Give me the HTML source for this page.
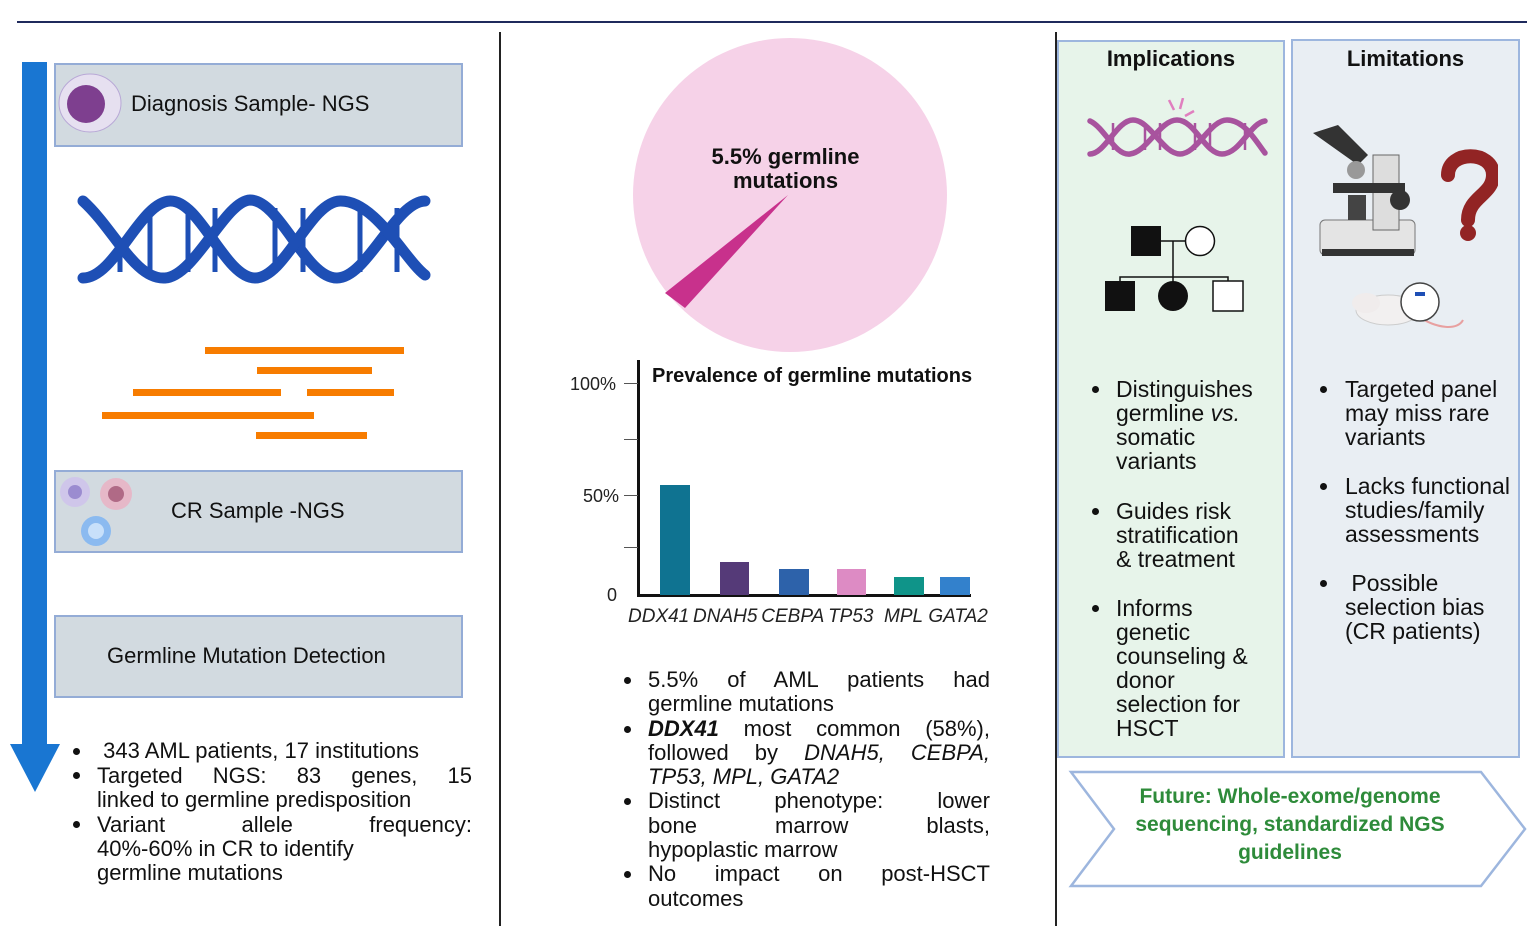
<!DOCTYPE html>
<html><head><meta charset="utf-8"><style>
body{margin:0;width:1532px;height:942px;background:#fff;position:relative;overflow:hidden;font-family:"Liberation Sans",Arial,sans-serif;color:#111}
.a{position:absolute}
.box{position:absolute;background:#d2dae0;border:2px solid #94acd6;box-sizing:border-box}
.l{position:absolute;font-size:22px;line-height:24px;white-space:nowrap}
.j{text-align:justify;text-align-last:justify}
.b{position:absolute;width:7px;height:7px;border-radius:50%;background:#111}
.r{font-size:23px}
</style></head><body>
<div class="a" style="left:17px;top:21px;width:1510px;height:2px;background:#1f2a5c"></div>
<div class="a" style="left:499px;top:32px;width:2px;height:894px;background:#222"></div>
<div class="a" style="left:1055px;top:32px;width:2px;height:894px;background:#222"></div>

<div class="a" style="left:22px;top:62px;width:25px;height:686px;background:#1976d2"></div>
<svg class="a" style="left:8px;top:744px" width="54" height="50"><polygon points="2,0 52,0 27,48" fill="#1976d2"/></svg>

<div class="box" style="left:54px;top:63px;width:409px;height:84px"></div>
<svg class="a" style="left:56px;top:70px" width="70" height="66"><ellipse cx="34" cy="33" rx="31" ry="29" fill="#e6e0f0" stroke="#b8a8d6"/><circle cx="30" cy="34" r="19" fill="#7e3f8f"/></svg>
<div class="a" style="left:131px;top:91px;font-size:22px">Diagnosis Sample- NGS</div>

<svg class="a" style="left:75px;top:190px" width="360" height="100" viewBox="0 0 360 100">
<g stroke="#1e4fb5" stroke-width="5"><line x1="45" y1="50" x2="45" y2="82"/><line x1="75" y1="20" x2="75" y2="82"/><line x1="113" y1="18" x2="113" y2="82"/><line x1="140" y1="18" x2="140" y2="82"/><line x1="200" y1="18" x2="200" y2="82"/><line x1="228" y1="18" x2="228" y2="82"/><line x1="285" y1="18" x2="285" y2="82"/><line x1="322" y1="18" x2="322" y2="82"/></g>
<g fill="none" stroke="#1e4fb5" stroke-width="11" stroke-linecap="round">
<path d="M8,11 C40,40 60,90 90,88 C120,86 150,11 175,10 C205,10 230,88 262,88 C292,88 320,12 350,11"/>
<path d="M8,88 C40,88 65,12 95,11 C125,10 150,88 180,88 C210,88 235,12 265,11 C300,10 330,70 350,85"/>
</g>
</svg>
<div class="a" style="left:205px;top:347px;width:199px;height:7px;background:#f77c00"></div>
<div class="a" style="left:257px;top:367px;width:115px;height:7px;background:#f77c00"></div>
<div class="a" style="left:133px;top:389px;width:148px;height:7px;background:#f77c00"></div>
<div class="a" style="left:307px;top:389px;width:87px;height:7px;background:#f77c00"></div>
<div class="a" style="left:102px;top:412px;width:212px;height:7px;background:#f77c00"></div>
<div class="a" style="left:256px;top:432px;width:111px;height:7px;background:#f77c00"></div>

<div class="box" style="left:54px;top:470px;width:409px;height:83px"></div>
<svg class="a" style="left:56px;top:473px" width="80" height="80"><circle cx="19" cy="19" r="15" fill="#cfc6ea"/><circle cx="19" cy="19" r="7" fill="#9b8cd0"/><circle cx="60" cy="21" r="16" fill="#e6b8c8"/><circle cx="60" cy="21" r="8" fill="#b06a86"/><circle cx="40" cy="58" r="15" fill="#8bbaf0"/><circle cx="40" cy="58" r="8" fill="#c8e0fa"/></svg>
<div class="a" style="left:171px;top:498px;font-size:22px">CR Sample -NGS</div>

<div class="box" style="left:54px;top:615px;width:409px;height:83px"></div>
<div class="a" style="left:107px;top:643px;font-size:22px">Germline Mutation Detection</div>

<div class="b" style="left:73px;top:748px"></div><div class="l" style="left:97px;top:739px">&nbsp;343 AML patients, 17 institutions</div>
<div class="b" style="left:73px;top:772px"></div><div class="l j" style="left:97px;top:764px;width:375px">Targeted NGS: 83 genes, 15</div>
<div class="l" style="left:97px;top:788px">linked to germline predisposition</div>
<div class="b" style="left:73px;top:821px"></div><div class="l j" style="left:97px;top:813px;width:375px">Variant allele frequency:</div>
<div class="l" style="left:97px;top:837px">40%-60% in CR to identify</div>
<div class="l" style="left:97px;top:861px">germline mutations</div>

<svg class="a" style="left:630px;top:36px" width="320" height="320"><circle cx="160" cy="159" r="157" fill="#f6d2e8"/><polygon points="158,159 35,257 55,272" fill="#c8318c"/></svg>
<div class="a" style="left:688px;top:145px;width:195px;text-align:center;font-weight:bold;font-size:22px;line-height:24px">5.5% germline mutations</div>

<div class="a" style="left:637px;top:360px;width:3px;height:237px;background:#111"></div>
<div class="a" style="left:637px;top:594px;width:334px;height:3px;background:#111"></div>
<div class="a" style="left:624px;top:383px;width:14px;height:1px;background:#555"></div>
<div class="a" style="left:624px;top:439px;width:14px;height:1px;background:#555"></div>
<div class="a" style="left:624px;top:495px;width:14px;height:1px;background:#555"></div>
<div class="a" style="left:624px;top:547px;width:14px;height:1px;background:#555"></div>
<div class="a" style="left:570px;top:374px;font-size:18px;color:#222">100%</div>
<div class="a" style="left:583px;top:486px;font-size:18px;color:#222">50%</div>
<div class="a" style="left:607px;top:585px;font-size:18px;color:#222">0</div>
<div class="a" style="left:652px;top:365px;font-size:20px;font-weight:bold">Prevalence of germline mutations</div>
<div class="a" style="left:660px;top:485px;width:30px;height:110px;background:#0f7391"></div>
<div class="a" style="left:720px;top:562px;width:29px;height:33px;background:#553a78"></div>
<div class="a" style="left:779px;top:569px;width:30px;height:26px;background:#2d62aa"></div>
<div class="a" style="left:837px;top:569px;width:29px;height:26px;background:#dd8bc4"></div>
<div class="a" style="left:894px;top:577px;width:30px;height:18px;background:#0f9489"></div>
<div class="a" style="left:940px;top:577px;width:30px;height:18px;background:#3381cc"></div>
<div class="a" style="left:628px;top:606px;font-size:19px;font-style:italic;color:#222;white-space:nowrap">DDX41&thinsp;DNAH5&thinsp;CEBPA&thinsp;TP53&nbsp;&nbsp;MPL&nbsp;GATA2</div>

<div class="b" style="left:624px;top:677px"></div><div class="l j" style="left:648px;top:668px;width:342px">5.5% of AML patients had</div>
<div class="l" style="left:648px;top:692px">germline mutations</div>
<div class="b" style="left:624px;top:726px"></div><div class="l j" style="left:648px;top:717px;width:342px"><b><i>DDX41</i></b> most common (58%),</div>
<div class="l j" style="left:648px;top:741px;width:342px">followed by <i>DNAH5,</i> <i>CEBPA,</i></div>
<div class="l" style="left:648px;top:765px"><i>TP53, MPL, GATA2</i></div>
<div class="b" style="left:624px;top:798px"></div><div class="l j" style="left:648px;top:789px;width:342px">Distinct phenotype: lower</div>
<div class="l j" style="left:648px;top:814px;width:342px">bone marrow blasts,</div>
<div class="l" style="left:648px;top:838px">hypoplastic marrow</div>
<div class="b" style="left:624px;top:871px"></div><div class="l j" style="left:648px;top:862px;width:342px">No impact on post-HSCT</div>
<div class="l" style="left:648px;top:887px">outcomes</div>

<div class="a" style="left:1057px;top:40px;width:228px;height:718px;background:#e7f4ea;border:2px solid #9db6de;box-sizing:border-box"></div>
<div class="a" style="left:1291px;top:39px;width:229px;height:719px;background:#e9eef3;border:2px solid #9db6de;box-sizing:border-box"></div>
<div class="a" style="left:1057px;top:46px;width:228px;text-align:center;font-weight:bold;font-size:22px">Implications</div>
<div class="a" style="left:1291px;top:46px;width:229px;text-align:center;font-weight:bold;font-size:22px">Limitations</div>

<svg class="a" style="left:1085px;top:98px" width="185" height="62" viewBox="0 0 185 62">
<g stroke="#a8539e" stroke-width="2.5"><line x1="28" y1="25" x2="28" y2="52"/><line x1="60" y1="25" x2="60" y2="52"/><line x1="75" y1="25" x2="75" y2="52"/><line x1="110" y1="25" x2="110" y2="52"/><line x1="125" y1="25" x2="125" y2="52"/><line x1="160" y1="25" x2="160" y2="52"/></g>
<g fill="none" stroke="#a8539e" stroke-width="5.5" stroke-linecap="round"><path d="M5,23 C20,30 30,58 45,56 C62,54 75,22 92,22 C110,22 120,56 137,56 C155,56 165,25 180,23"/><path d="M5,56 C20,56 32,22 48,22 C65,22 78,56 95,56 C112,56 125,22 142,22 C160,22 172,45 180,55"/></g>
<g stroke="#e07fbf" stroke-width="2.5"><line x1="84" y1="2" x2="89" y2="12"/><line x1="98" y1="0" x2="95" y2="11"/><line x1="109" y1="13" x2="100" y2="18"/></g>
</svg>
<svg class="a" style="left:1100px;top:222px" width="150" height="92">
<rect x="31" y="4" width="30" height="30" fill="#111"/><circle cx="100" cy="19" r="14.5" fill="#fff" stroke="#111" stroke-width="1.5"/>
<g stroke="#111" stroke-width="1.5" fill="none"><line x1="61" y1="19" x2="86" y2="19"/><line x1="73" y1="19" x2="73" y2="73"/><polyline points="20,63 20,55 128,55 128,63"/></g>
<rect x="5" y="59" width="30" height="30" fill="#111"/><circle cx="73" cy="74" r="15" fill="#111"/><rect x="113" y="59" width="30" height="30" fill="#fff" stroke="#111" stroke-width="1.5"/>
</svg>
<svg class="a" style="left:1308px;top:125px" width="190" height="220">
<rect x="12" y="95" width="95" height="35" rx="5" fill="#e4e4e4" stroke="#777"/><rect x="14" y="124" width="92" height="7" fill="#333"/>
<rect x="65" y="30" width="26" height="75" fill="#ddd" stroke="#666"/><rect x="25" y="58" width="72" height="10" fill="#333"/>
<rect x="40" y="70" width="18" height="25" fill="#444"/><polygon points="5,8 30,0 60,30 50,40" fill="#333"/><circle cx="48" cy="45" r="9" fill="#999"/><circle cx="92" cy="75" r="10" fill="#333"/>
<path d="M140,50 C140,25 185,25 185,50 C185,70 160,72 160,95" fill="none" stroke="#922424" stroke-width="14" stroke-linecap="round"/><circle cx="160" cy="108" r="8" fill="#922424"/>
<ellipse cx="80" cy="185" rx="32" ry="15" fill="#f2f0f0" stroke="#ccc"/><ellipse cx="58" cy="178" rx="14" ry="10" fill="#f0ecec"/><path d="M108,190 C130,205 150,205 155,195" fill="none" stroke="#e8a0a0" stroke-width="2"/>
<circle cx="112" cy="177" r="19" fill="#fff" stroke="#444" stroke-width="1.5"/><rect x="107" y="167" width="10" height="4" fill="#1e4fb5"/>
</svg>

<div class="b" style="left:1092px;top:386px"></div>
<div class="l r" style="left:1116px;top:377px">Distinguishes<br>germline <i>vs.</i><br>somatic<br>variants</div>
<div class="b" style="left:1092px;top:508px"></div>
<div class="l r" style="left:1116px;top:499px">Guides risk<br>stratification<br>&amp; treatment</div>
<div class="b" style="left:1092px;top:605px"></div>
<div class="l r" style="left:1116px;top:596px">Informs<br>genetic<br>counseling &amp;<br>donor<br>selection for<br>HSCT</div>

<div class="b" style="left:1320px;top:386px"></div>
<div class="l r" style="left:1345px;top:377px">Targeted panel<br>may miss rare<br>variants</div>
<div class="b" style="left:1320px;top:483px"></div>
<div class="l r" style="left:1345px;top:474px">Lacks functional<br>studies/family<br>assessments</div>
<div class="b" style="left:1320px;top:580px"></div>
<div class="l r" style="left:1345px;top:571px">&nbsp;Possible<br>selection bias<br>(CR patients)</div>

<svg class="a" style="left:1066px;top:768px" width="466" height="124"><polygon points="5,4 415,4 459,61 415,118 5,118 48,61" fill="#fff" stroke="#9db6de" stroke-width="2.5"/></svg>
<div class="a" style="left:1110px;top:783px;width:360px;text-align:center;color:#2e8b3a;font-weight:bold;font-size:21px;line-height:28px">Future: Whole-exome/genome sequencing, standardized NGS guidelines</div>
</body></html>
